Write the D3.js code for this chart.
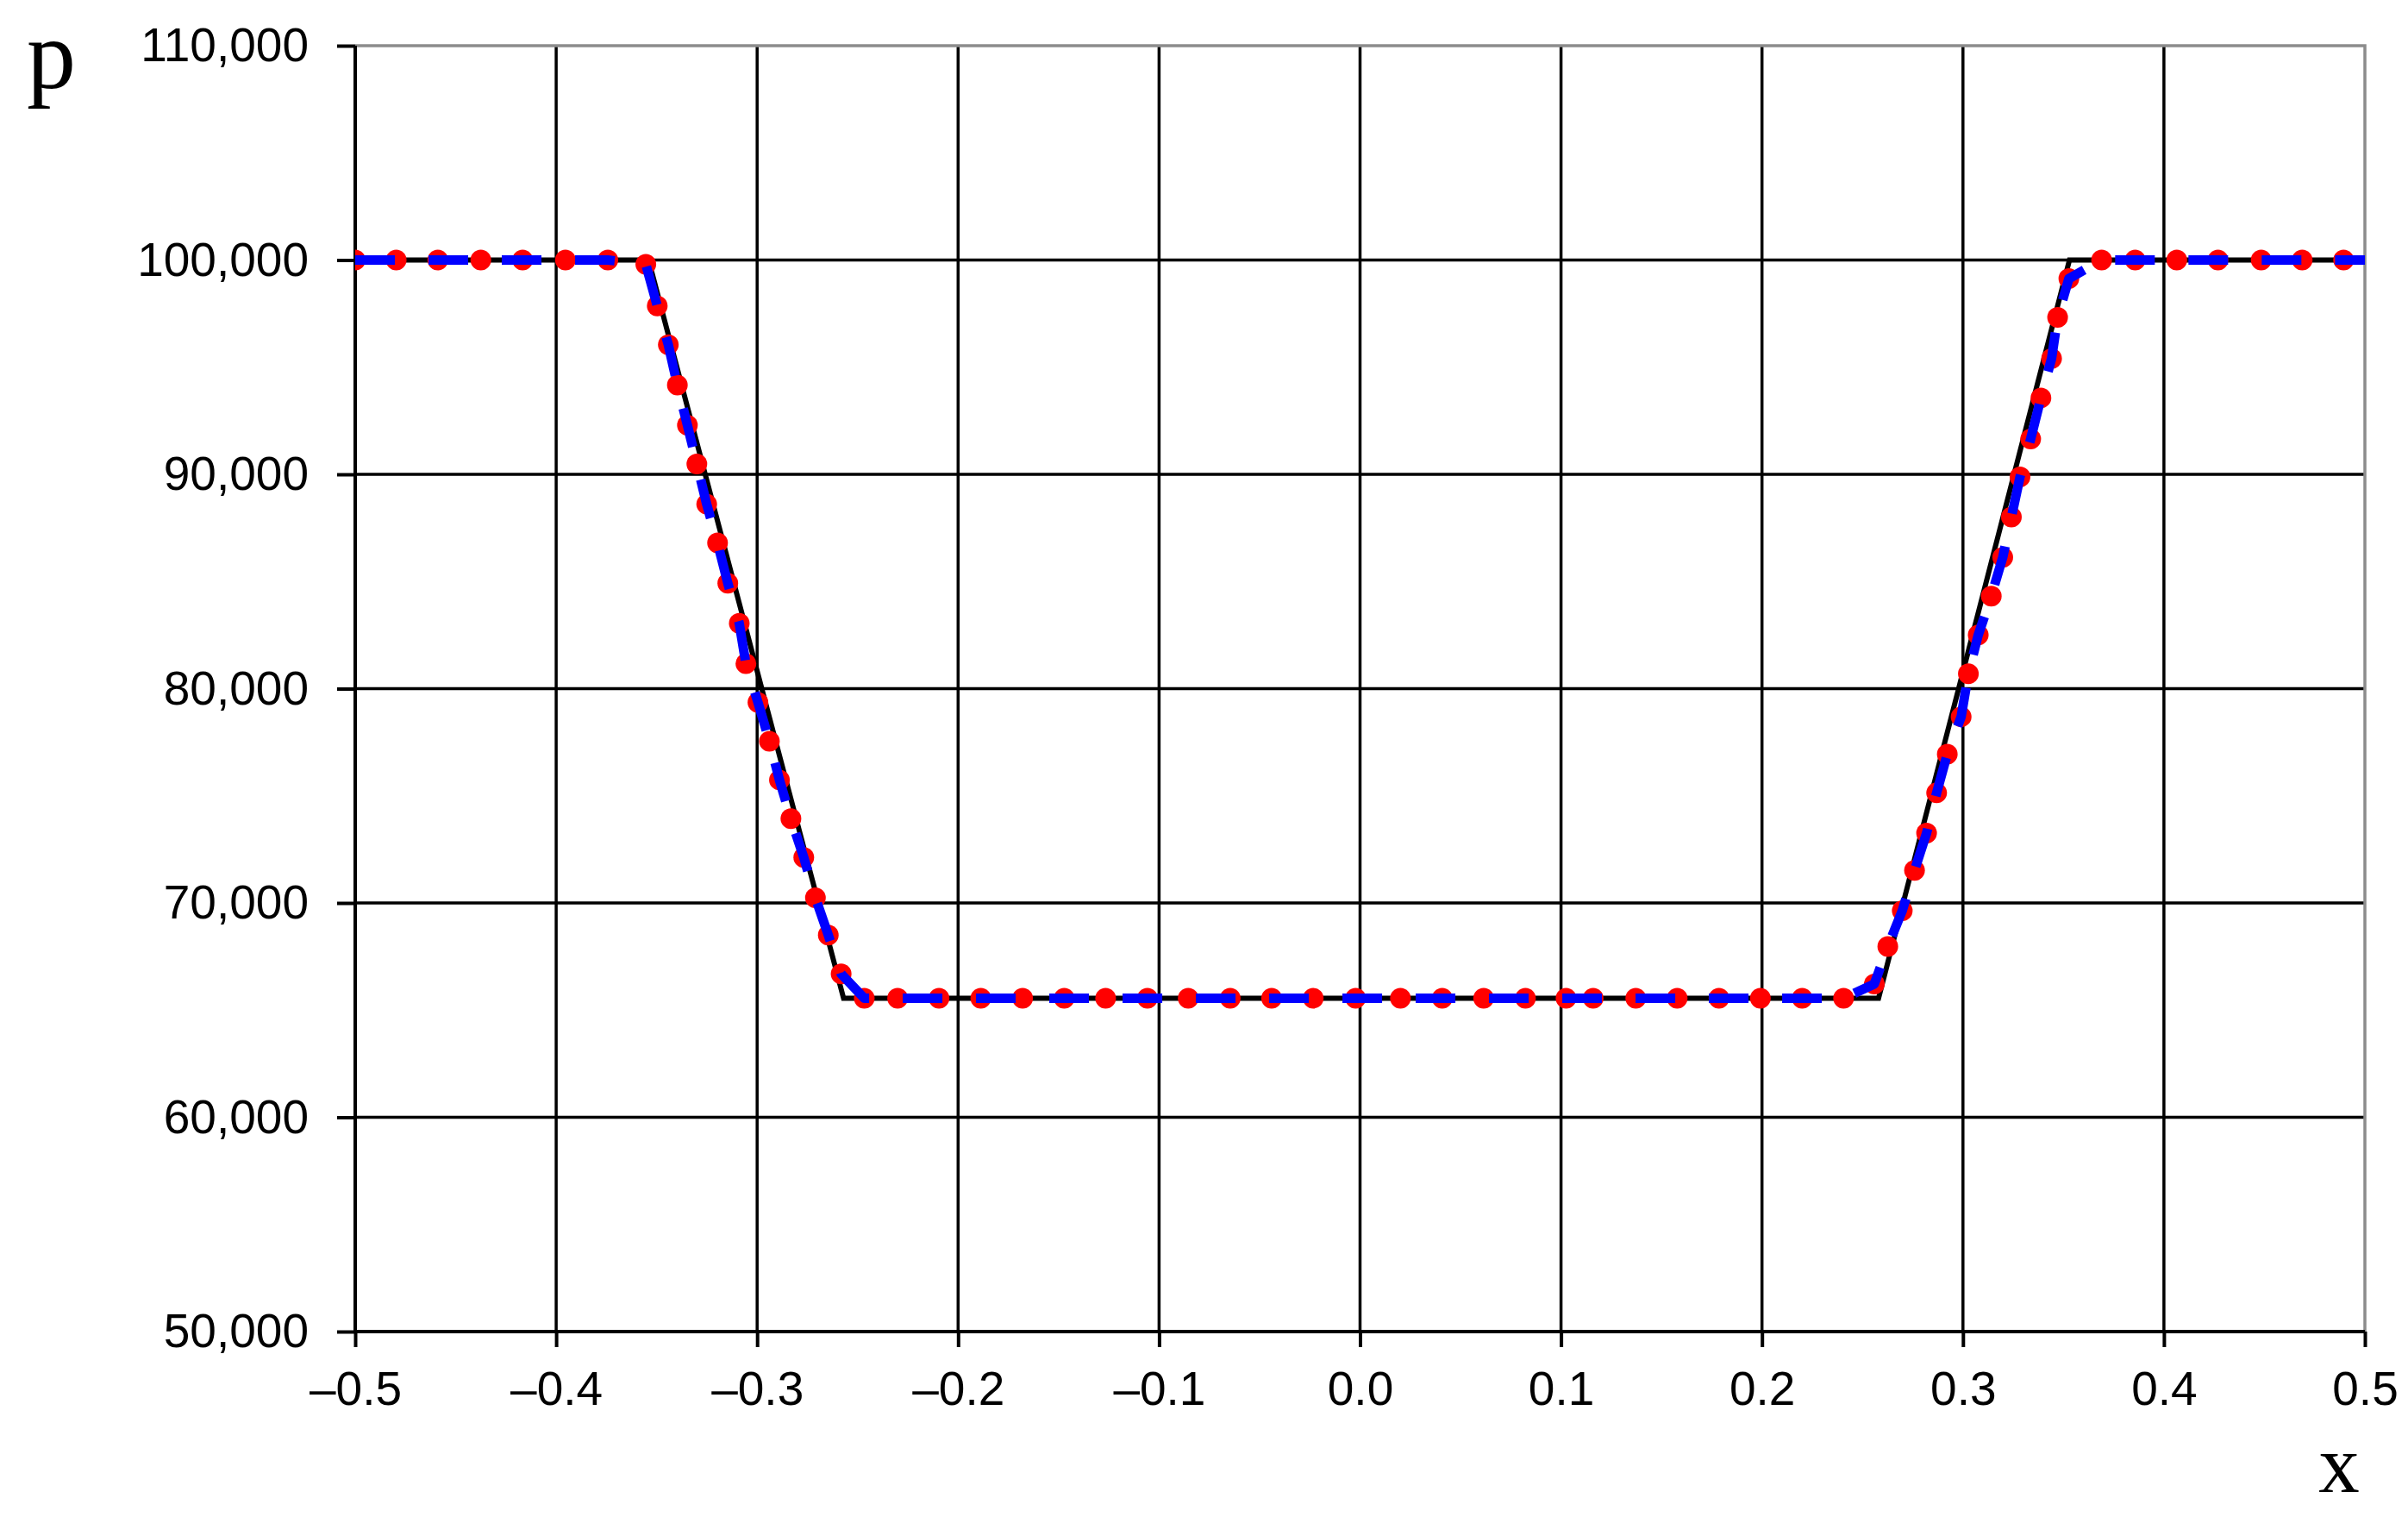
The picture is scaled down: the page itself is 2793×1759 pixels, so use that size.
<!DOCTYPE html>
<html>
<head>
<meta charset="utf-8">
<script src="https://cdn.jsdelivr.net/npm/d3@7"></script>
<style>
  html, body { margin: 0; padding: 0; background: #fff; }
</style>
</head>
<body>
<div id="chart"></div>
<script>
/**
 * DATA
 * */
// axis ticks
const xTicks = [-0.5, -0.4, -0.3, -0.2, -0.1, 0.0, 0.1, 0.2, 0.3, 0.4, 0.5];
const xTickLabels = ["\u20130.5", "\u20130.4", "\u20130.3", "\u20130.2", "\u20130.1", "0.0", "0.1", "0.2", "0.3", "0.4", "0.5"];
const yTicks = [50000, 60000, 70000, 80000, 90000, 100000, 110000];

// exact solution (black solid)
const exactX = [-0.5, -0.354, -0.257, 0.258, 0.353, 0.5];
const exactP = [100000, 100000, 65550, 65550, 100000, 100000];

// numerical solution points (red dots)
const dotX = [
  -0.5, -0.4796, -0.4589, -0.4375, -0.4167, -0.3954, -0.3743,
  -0.3554, -0.3497, -0.3442, -0.3397, -0.3347, -0.3300, -0.3251, -0.3197, -0.3146, -0.3089,
  -0.3056, -0.2996, -0.2939, -0.2889, -0.2832, -0.2768, -0.2710, -0.2646, -0.2582,
  -0.2467, -0.2301, -0.2095, -0.1887, -0.1679, -0.1472, -0.1266, -0.1058, -0.0855, -0.0646,
  -0.0440, -0.0233, -0.0022,
  0.0201, 0.0409, 0.0615, 0.0823, 0.1025, 0.1160, 0.1372, 0.1578, 0.1786, 0.1992, 0.2200, 0.2406,
  0.2559, 0.2626, 0.2698, 0.2759, 0.2819, 0.2869, 0.2922, 0.2991, 0.3027, 0.3076,
  0.3141, 0.3198, 0.3241, 0.3284, 0.3337, 0.3388, 0.3441, 0.3471, 0.3527,
  0.3690, 0.3857, 0.4064, 0.4269, 0.4484, 0.4688, 0.4894
];
const dotP = [
  100000, 100000, 100000, 100000, 100000, 100000, 100000,
  99799, 97857, 96047, 94169, 92295, 90485, 88607, 86798, 84920, 83046,
  81168, 79358, 77549, 75739, 73930, 72120, 70242, 68501, 66691,
  65550, 65550, 65550, 65550, 65550, 65550, 65550, 65550, 65550, 65550,
  65550, 65550, 65550,
  65550, 65550, 65550, 65550, 65550, 65550, 65550, 65550, 65550, 65550, 65550, 65550,
  66220, 67965, 69638, 71517, 73258, 75136, 76945, 78687, 80697, 82507,
  84317, 86126, 88004, 89882, 91652, 93566, 95404, 97322, 99131,
  100000, 100000, 100000, 100000, 100000, 100000, 100000
];

// numerical solution line (blue dashed) - follows the same points, runs to the right edge
const lineX = dotX.concat([0.5]);
const lineP = dotP.concat([100000]);

/**
 * CONSTANTS
 * */
const width = 2793,
  height = 1759,
  margin = { top: 53, right: 50, bottom: 215, left: 412 };

const tickFont = "'Liberation Sans', Arial, sans-serif";
const labelFont = "'Liberation Serif', 'Times New Roman', serif";

const svg = d3.select("#chart")
  .append("svg")
  .attr("width", width)
  .attr("height", height)
  .style("display", "block");

const x = d3.scaleLinear()
  .domain([-0.5, 0.5])
  .range([margin.left, width - margin.right]);

const y = d3.scaleLinear()
  .domain([50000, 110000])
  .range([height - margin.bottom, margin.top]);

/**
 * GRID
 * */
const grid = svg.append("g").attr("class", "grid");

grid.selectAll("line.h")
  .data(yTicks.filter(d => d > 50000 && d < 110000))
  .join("line")
  .attr("class", "h")
  .attr("x1", x(-0.5)).attr("x2", x(0.5))
  .attr("y1", d => y(d)).attr("y2", d => y(d))
  .attr("stroke", "#000")
  .attr("stroke-width", 3.5);

grid.selectAll("line.v")
  .data(xTicks.filter(d => d > -0.5 && d < 0.5))
  .join("line")
  .attr("class", "v")
  .attr("x1", d => x(d)).attr("x2", d => x(d))
  .attr("y1", y(110000)).attr("y2", y(50000))
  .attr("stroke", "#000")
  .attr("stroke-width", 3.5);

// grey frame on top / right
grid.append("path")
  .attr("d", `M${x(-0.5)},${y(110000)}H${x(0.5)}V${y(50000)}`)
  .attr("fill", "none")
  .attr("stroke", "#8c8c8c")
  .attr("stroke-width", 3.5);

/**
 * AXES
 * */
const yAxis = svg.append("g")
  .attr("transform", `translate(${margin.left},0)`)
  .call(d3.axisLeft(y)
    .tickValues(yTicks)
    .tickSize(21)
    .tickPadding(33)
    .tickFormat(d3.format(",")));

const xAxis = svg.append("g")
  .attr("transform", `translate(0,${height - margin.bottom})`)
  .call(d3.axisBottom(x)
    .tickValues(xTicks)
    .tickSize(18)
    .tickPadding(28)
    .tickFormat((d, i) => xTickLabels[i]));

[yAxis, xAxis].forEach(ax => {
  ax.select(".domain").remove();
  ax.selectAll(".tick line").attr("stroke", "#000").attr("stroke-width", 4);
  ax.selectAll(".tick text")
    .attr("fill", "#000")
    .style("font-family", tickFont)
    .style("font-size", "55px");
});

// axis lines (black, left + bottom)
svg.append("path")
  .attr("d", `M${x(-0.5)},${y(110000)}V${y(50000)}H${x(0.5)}`)
  .attr("fill", "none")
  .attr("stroke", "#000")
  .attr("stroke-width", 4);

/**
 * SERIES
 * */
svg.append("clipPath")
  .attr("id", "plot-clip")
  .append("rect")
  .attr("x", x(-0.5))
  .attr("y", y(110000))
  .attr("width", x(0.5) - x(-0.5) + 4)
  .attr("height", y(50000) - y(110000));

const plot = svg.append("g").attr("clip-path", "url(#plot-clip)");

const line = d3.line()
  .x(d => x(d[0]))
  .y(d => y(d[1]));

// exact
plot.append("path")
  .datum(d3.zip(exactX, exactP))
  .attr("d", line)
  .attr("fill", "none")
  .attr("stroke", "#000")
  .attr("stroke-width", 6);

// red dots
plot.selectAll("circle")
  .data(d3.zip(dotX, dotP))
  .join("circle")
  .attr("cx", d => x(d[0]))
  .attr("cy", d => y(d[1]))
  .attr("r", 12)
  .attr("fill", "#ff0000");

// blue dashed
plot.append("path")
  .datum(d3.zip(lineX, lineP))
  .attr("d", line)
  .attr("fill", "none")
  .attr("stroke", "#0000ff")
  .attr("stroke-width", 11)
  .attr("stroke-dasharray", "46,39")
  .attr("stroke-linejoin", "round");

/**
 * AXIS TITLES
 * */
svg.append("text")
  .attr("x", 31)
  .attr("y", 102)
  .style("font-family", labelFont)
  .style("font-size", "114px")
  .attr("fill", "#000")
  .text("p");

svg.append("text")
  .attr("x", 2713)
  .attr("y", 1730)
  .attr("text-anchor", "middle")
  .style("font-family", labelFont)
  .style("font-size", "95px")
  .attr("fill", "#000")
  .text("x");
</script>
</body>
</html>
